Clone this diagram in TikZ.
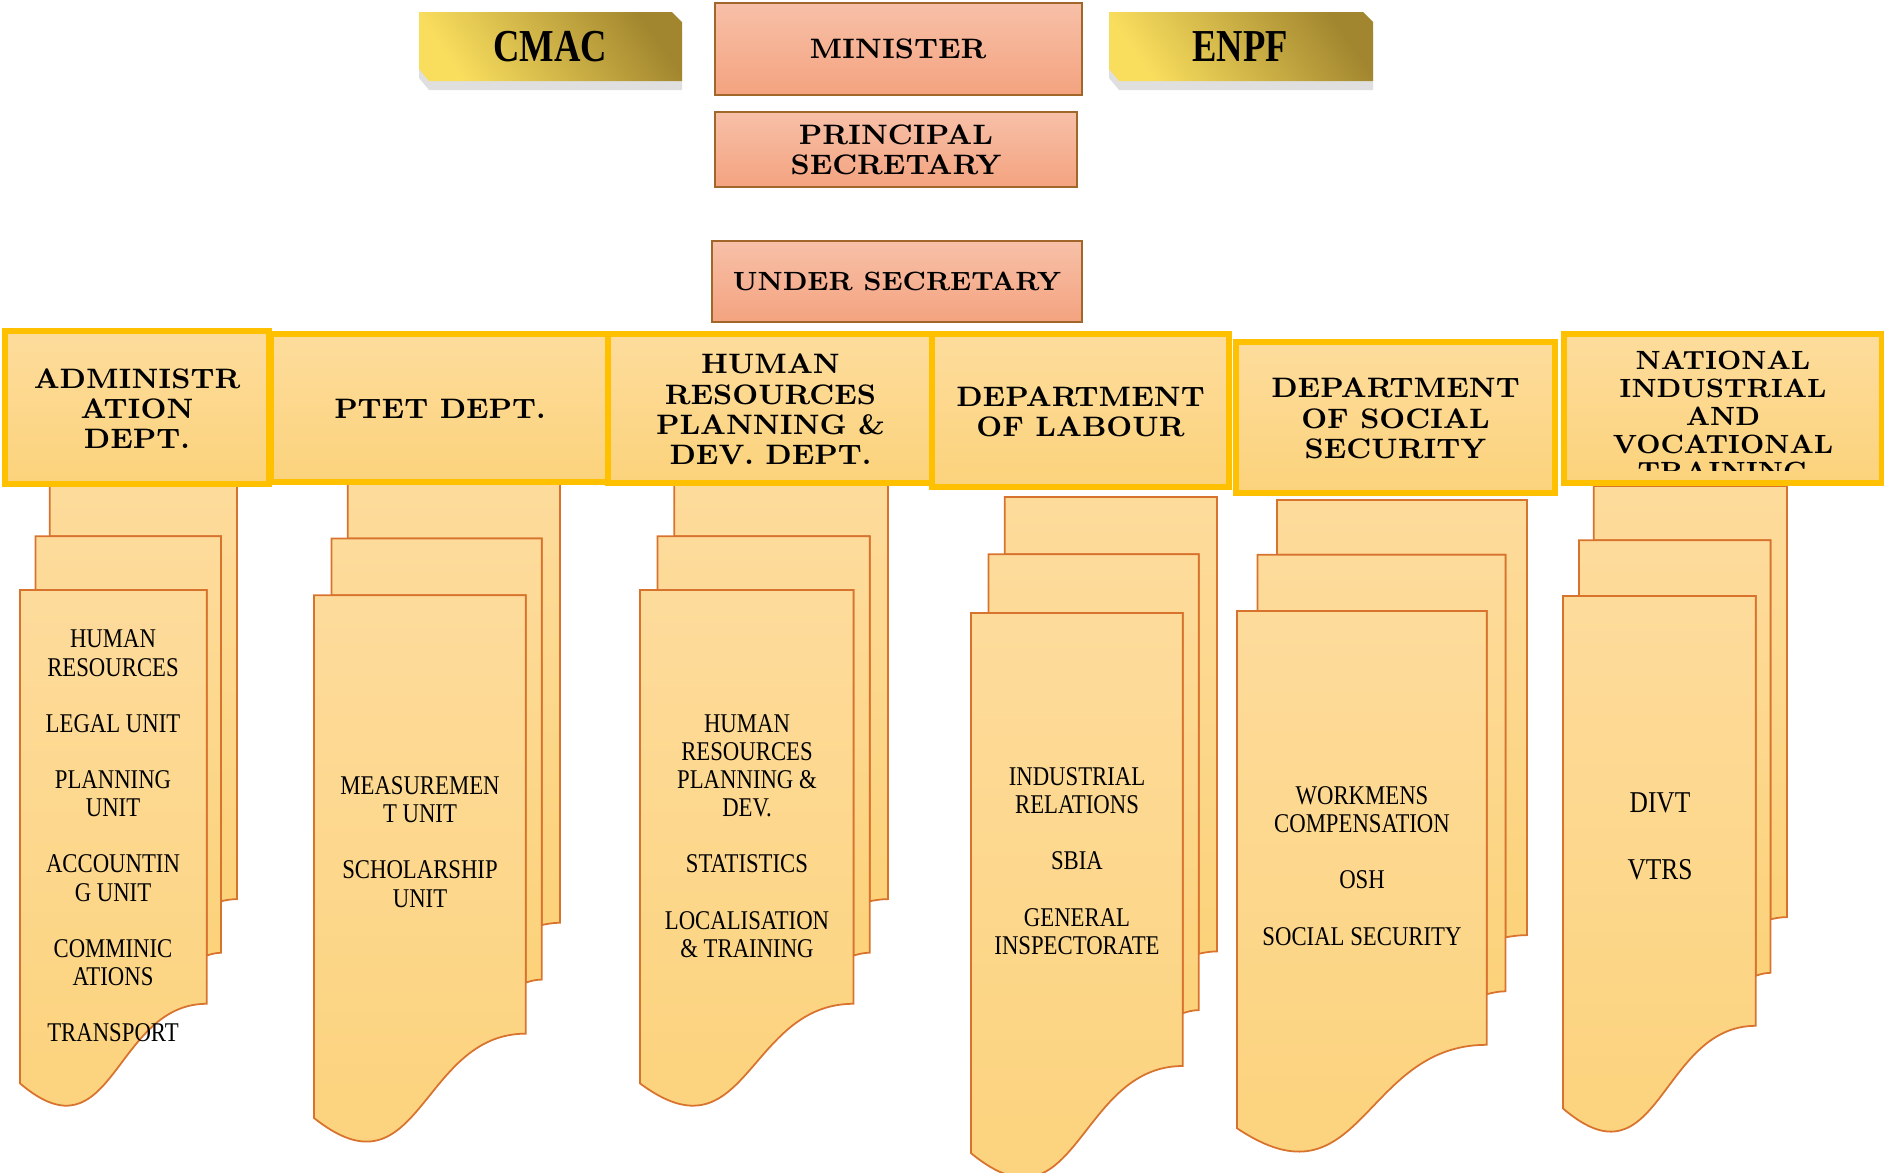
\documentclass[tikz,border=0pt]{standalone}
\usepackage{fontspec}
\usepackage{tikz}
\usetikzlibrary{positioning, shadows}

\newfontfamily\unitfont[FakeStretch=0.84]{Liberation Serif}
\newfontfamily\badgefont[FakeStretch=0.8]{Liberation Serif}

\definecolor{docfill1}{HTML}{FDDB9B}
\definecolor{docfill2}{HTML}{FCD27A}
\definecolor{docline}{HTML}{D8732E}
\definecolor{hdrline}{HTML}{FFC000}
\definecolor{hdrfill1}{HTML}{FDDC9C}
\definecolor{hdrfill2}{HTML}{FCD37C}
\definecolor{salmon1}{HTML}{F7C0A8}
\definecolor{salmon2}{HTML}{F4A37F}
\definecolor{salmonline}{HTML}{A0662A}
\definecolor{goldlight}{HTML}{F9DE5E}
\definecolor{golddark}{HTML}{A2862F}

\tikzset{
  hdrbox/.style={draw=hdrline, line width=1.5pt, top color=hdrfill1, bottom color=hdrfill2},
  topbox/.style={draw=salmonline, line width=0.6pt, top color=salmon1, bottom color=salmon2},
  badge/.style={top color=golddark, bottom color=goldlight, shading angle=-55,
    drop shadow={opacity=0.25, shadow xshift=0mm, shadow yshift=-0.9mm}},
  doc/.style={draw=docline, line width=0.5pt, top color=docfill1, bottom color=docfill2},
  hdrtext/.style={font=\bfseries\fontsize{8}{8.6}\selectfont, align=center},
  badgetext/.style={font=\badgefont\bfseries\fontsize{13}{13}\selectfont},
  unittext/.style={font=\unitfont\fontsize{7.7}{8}\selectfont, align=center}
}

\begin{document}
\begin{tikzpicture}[x=0.01cm, y=-0.01cm]
    \useasboundingbox (0,0) rectangle (1884,1172);
    \clip (0,0) rectangle (1884,1172);

    % Gold badges beside the minister
    \path[badge] (419,12) -- (672,12) -- (682,22) -- (682,81) -- (429,81) -- (419,69) -- cycle;
    \node[badgetext] (cmac) at (550,47) {CMAC};
    \path[badge] (1109,12) -- (1363,12) -- (1373,22) -- (1373,81) -- (1119,81) -- (1109,69) -- cycle;
    \node[badgetext] (enpf) at (1240,47) {ENPF};

    % Top of the ministry
    \draw[topbox] (715,3) rectangle (1082,95);
    \node[hdrtext] (minister) at (898,49) {MINISTER};
    \draw[topbox] (715,112) rectangle (1077,187);
    \node[hdrtext] (ps) at (896,150) {PRINCIPAL\\SECRETARY};
    \draw[topbox] (712,241) rectangle (1082,322);
    \node[hdrtext, font=\bfseries\fontsize{7.5}{8.6}\selectfont] (us) at (897,281) {UNDER SECRETARY};

    % Stacked sheets under each department
    \foreach \x/\y/\w/\h in {20/484/217/623, 314/483/246/660, 640/484/248/623,
                             971/497/246/682, 1237/500/290/653, 1563/486/224/647} {
      % back sheet
      \draw[doc] ({\x+0.1376*\w},{\y+0.0840*\h}) -- ({\x+0.1376*\w},\y) -- ({\x+\w},\y)
        -- ({\x+\w},{\y+0.6663*\h})
        .. controls ({\x+0.963*\w},{\y+0.6663*\h}) and ({\x+0.9259*\w},{\y+0.6698*\h})
        .. ({\x+0.9259*\w},{\y+0.6698*\h}) -- ({\x+0.9259*\w},{\y+0.0840*\h}) -- cycle;
      % middle sheet
      \draw[doc] ({\x+0.0709*\w},{\y+0.1701*\h}) -- ({\x+0.0709*\w},{\y+0.0840*\h})
        -- ({\x+0.9259*\w},{\y+0.0840*\h}) -- ({\x+0.9259*\w},{\y+0.7524*\h})
        .. controls ({\x+0.8934*\w},{\y+0.7524*\h}) and ({\x+0.8609*\w},{\y+0.7570*\h})
        .. ({\x+0.8609*\w},{\y+0.7570*\h}) -- ({\x+0.8609*\w},{\y+0.1701*\h}) -- cycle;
      % front sheet
      \draw[doc] (\x,{\y+0.1701*\h}) -- ({\x+0.8609*\w},{\y+0.1701*\h})
        -- ({\x+0.8609*\w},{\y+0.8343*\h})
        .. controls ({\x+0.4305*\w},{\y+0.8343*\h}) and ({\x+0.4305*\w},{\y+1.0899*\h})
        .. (\x,{\y+0.9621*\h}) -- cycle;
    }

    % Department headers
    \foreach \name/\xa/\ya/\xb/\yb/\txt in {admin/5/331/269/484/{ADMINISTR\\ATION\\DEPT.},
        ptet/271/334/609/482/{PTET DEPT.},
        hrdev/608/334/933/483/{HUMAN\\RESOURCES\\PLANNING \&\\DEV. DEPT.},
        labour/932/334/1229/487/{DEPARTMENT\\OF LABOUR},
        social/1236/342/1555/493/{DEPARTMENT\\OF SOCIAL\\SECURITY}} {
      \draw[hdrbox] (\xa,\ya) rectangle (\xb,\yb);
      \node[hdrtext] (\name) at ({(\xa+\xb)/2},{(\ya+\yb)/2+1}) {\txt};
    }
    \draw[hdrbox] (1564,334) rectangle (1882,483);
    \begin{scope}
      \clip (1566,337) rectangle (1880,470);
      \node[hdrtext, font=\bfseries\fontsize{7.5}{7.95}\selectfont] (nivt) at (1723,416)
        {NATIONAL\\INDUSTRIAL\\AND\\VOCATIONAL\\TRAINING};
    \end{scope}

    % Units of each department
    \node[unittext] (adminunits) at (113,836) {HUMAN\\RESOURCES\\[8pt]LEGAL UNIT\\[8pt]PLANNING\\UNIT\\[8pt]ACCOUNTIN\\G UNIT\\[8pt]COMMINIC\\ATIONS\\[8pt]TRANSPORT};
    \node[unittext] (ptetunits) at (420,842) {MEASUREMEN\\T UNIT\\[8pt]SCHOLARSHIP\\UNIT};
    \node[unittext] (hrunits) at (747,836) {HUMAN\\RESOURCES\\PLANNING \&\\DEV.\\[8pt]STATISTICS\\[8pt]LOCALISATION\\\& TRAINING};
    \node[unittext] (labourunits) at (1077,861) {INDUSTRIAL\\RELATIONS\\[8pt]SBIA\\[8pt]GENERAL\\INSPECTORATE};
    \node[unittext] (socialunits) at (1362,866) {WORKMENS\\COMPENSATION\\[8pt]OSH\\[8pt]SOCIAL SECURITY};
    \node[unittext, font=\unitfont\fontsize{8.6}{9}\selectfont] (nivtunits) at (1660,836) {DIVT\\[10pt]VTRS};
\end{tikzpicture}
\end{document}
